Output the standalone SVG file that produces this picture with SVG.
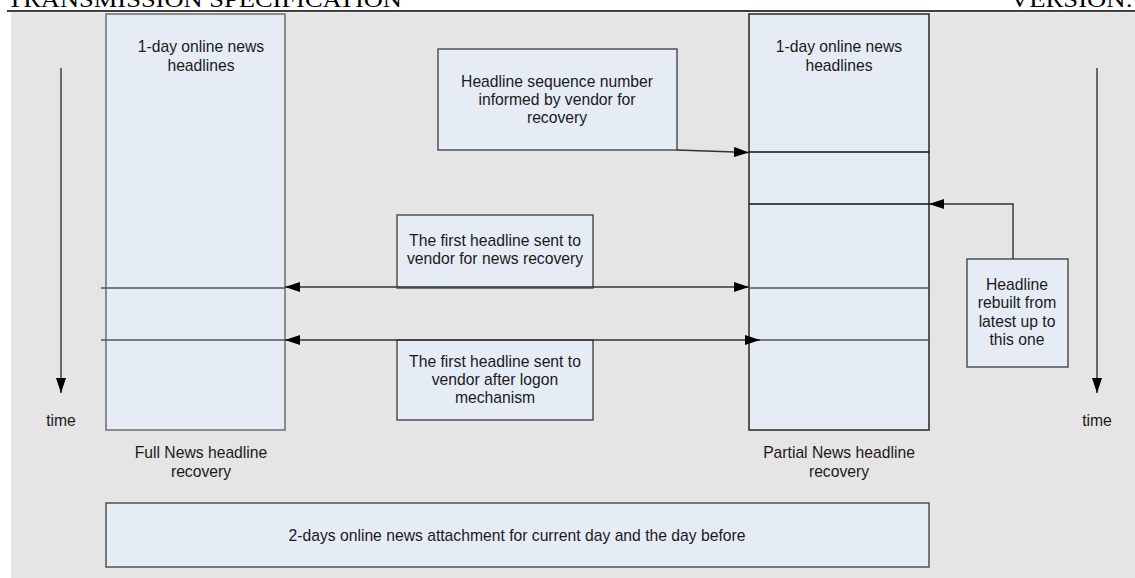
<svg xmlns="http://www.w3.org/2000/svg" width="1135" height="578" viewBox="0 0 1135 578">
<style>
.t{font-family:"Liberation Sans",Arial,sans-serif;font-size:15.7px;fill:#1a1a1a;text-anchor:middle}
.hd{font-family:"Liberation Serif","Times New Roman",serif;font-size:24px;fill:#000}
.col{fill:#e6ecf6;stroke-width:1.4}
.box{fill:#e6ecf6;stroke:#3a3a3a;stroke-width:1.3}
.div{stroke-width:1.4;fill:none}
.c{stroke:#333;stroke-width:1.4;fill:none}
</style>
<defs>
<marker id="ah" viewBox="0 0 15 10" refX="15" refY="5" markerWidth="15" markerHeight="10" markerUnits="userSpaceOnUse" orient="auto-start-reverse">
<path d="M0,0 L15,5 L0,10 Z" fill="#000"/>
</marker>
</defs>
<text class="hd" x="7" y="7" textLength="395" lengthAdjust="spacingAndGlyphs">TRANSMISSION SPECIFICATION</text>
<text class="hd" x="1010" y="7" textLength="123" lengthAdjust="spacingAndGlyphs">VERSION:</text>
<line x1="7" y1="11" x2="1135" y2="11" stroke="#000" stroke-width="1.5"/>
<rect x="11" y="12.5" width="1124" height="566" fill="#e5e5e5"/>

<g id="full-column">
<rect class="col" x="106" y="14" width="179" height="416" stroke="#666"/>
<line class="div" x1="101" y1="288" x2="285" y2="288" stroke="#555"/>
<line class="div" x1="101" y1="340" x2="285" y2="340" stroke="#555"/>
<text class="t" x="201" y="52">1-day online news</text>
<text class="t" x="201" y="71">headlines</text>
</g>

<g id="partial-column">
<rect class="col" x="749" y="14" width="180" height="416" stroke="#1a1a1a"/>
<line class="div" x1="749" y1="152" x2="929" y2="152" stroke="#111"/>
<line class="div" x1="749" y1="204" x2="929" y2="204" stroke="#111"/>
<line class="div" x1="749" y1="288" x2="929" y2="288" stroke="#555"/>
<line class="div" x1="749" y1="340" x2="929" y2="340" stroke="#555"/>
<text class="t" x="839" y="52">1-day online news</text>
<text class="t" x="839" y="71">headlines</text>
</g>

<g id="seq-box">
<rect class="box" x="438" y="49" width="239" height="101"/>
<text class="t" x="557" y="87">Headline sequence number</text>
<text class="t" x="557" y="105">informed by vendor for</text>
<text class="t" x="557" y="123">recovery</text>
</g>

<g id="first-recovery-box">
<rect class="box" x="397" y="215" width="196" height="73"/>
<text class="t" x="495" y="246">The first headline sent to</text>
<text class="t" x="495" y="264">vendor for news recovery</text>
</g>

<g id="first-logon-box">
<rect class="box" x="397" y="340" width="196" height="80"/>
<text class="t" x="495" y="367">The first headline sent to</text>
<text class="t" x="495" y="385">vendor after logon</text>
<text class="t" x="495" y="403">mechanism</text>
</g>

<g id="rebuilt-box">
<rect class="box" x="967" y="259" width="101" height="108"/>
<text class="t" x="1017" y="290">Headline</text>
<text class="t" x="1017" y="308">rebuilt from</text>
<text class="t" x="1017" y="327">latest up to</text>
<text class="t" x="1017" y="345">this one</text>
</g>

<g id="bottom-box">
<rect class="box" x="106" y="503" width="823" height="64" stroke="#2a2a2a"/>
<text class="t" x="517" y="541">2-days online news attachment for current day and the day before</text>
</g>

<g id="labels">
<text class="t" x="201" y="458">Full News headline</text>
<text class="t" x="201" y="477">recovery</text>
<text class="t" x="839" y="458">Partial News headline</text>
<text class="t" x="839" y="477">recovery</text>
<text class="t" x="61" y="426">time</text>
<text class="t" x="1097" y="426">time</text>
</g>

<g id="connectors">
<line class="c" x1="61" y1="68" x2="61" y2="393" marker-end="url(#ah)"/>
<line class="c" x1="1097" y1="68" x2="1097" y2="393" marker-end="url(#ah)"/>
<line class="c" x1="677" y1="150" x2="749" y2="152.5" marker-end="url(#ah)"/>
<polyline class="c" points="1013,259 1013,204 929,204" marker-end="url(#ah)"/>
<line class="c" x1="285" y1="287" x2="749" y2="287" marker-start="url(#ah)" marker-end="url(#ah)"/>
<line class="c" x1="285" y1="340" x2="760" y2="340" marker-start="url(#ah)" marker-end="url(#ah)"/>
</g>
</svg>
